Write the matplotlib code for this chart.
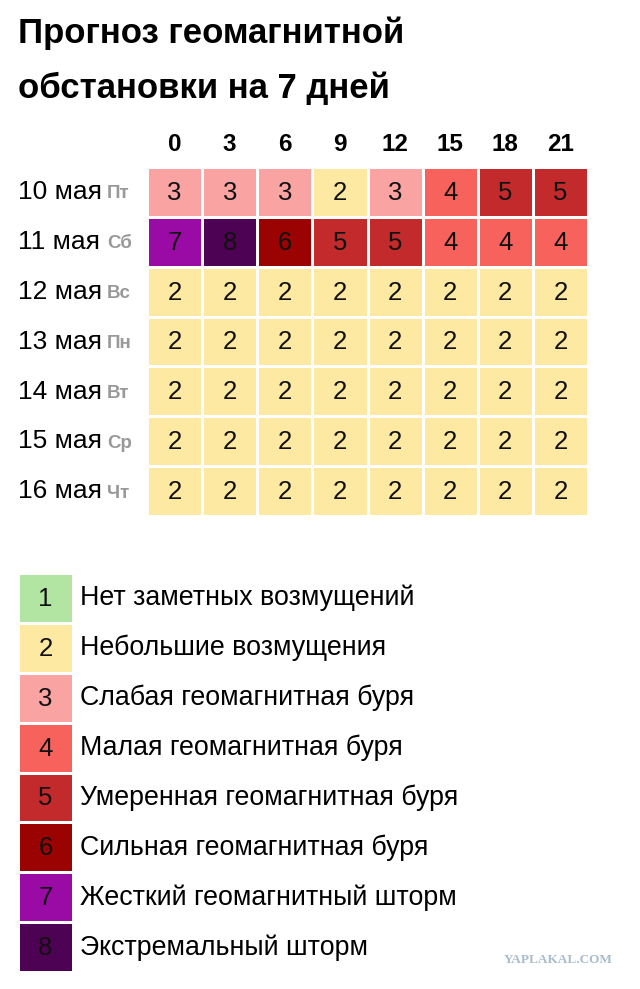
import matplotlib
matplotlib.use("Agg")
import matplotlib.pyplot as plt
import numpy as np
from matplotlib.colors import ListedColormap, BoundaryNorm

plt.rcParams['font.family'] = ['Liberation Sans', 'DejaVu Sans']

hours = ["0", "3", "6", "9", "12", "15", "18", "21"]
days = ["10 мая", "11 мая", "12 мая", "13 мая", "14 мая", "15 мая", "16 мая"]
weekdays = ["Пт", "Сб", "Вс", "Пн", "Вт", "Ср", "Чт"]
values = [
    [3, 3, 3, 2, 3, 4, 5, 5],
    [7, 8, 6, 5, 5, 4, 4, 4],
    [2, 2, 2, 2, 2, 2, 2, 2],
    [2, 2, 2, 2, 2, 2, 2, 2],
    [2, 2, 2, 2, 2, 2, 2, 2],
    [2, 2, 2, 2, 2, 2, 2, 2],
    [2, 2, 2, 2, 2, 2, 2, 2],
]
levels = [1, 2, 3, 4, 5, 6, 7, 8]
level_names = ["Нет заметных возмущений", "Небольшие возмущения", "Слабая геомагнитная буря",
               "Малая геомагнитная буря", "Умеренная геомагнитная буря", "Сильная геомагнитная буря",
               "Жесткий геомагнитный шторм", "Экстремальный шторм"]
colors = ["#b2e5a2", "#fde9a2", "#f9a4a2", "#f7625d", "#c22a2c", "#9b0202", "#9a0aa5", "#4e0254"]

cmap = ListedColormap(colors)
norm = BoundaryNorm(np.arange(0.5, 9.5, 1), cmap.N)

W, H = 640, 989
fig = plt.figure(figsize=(W/100, H/100), dpi=100)

def ax_px(l, t, r, b):
    return fig.add_axes([l/W, 1-b/H, (r-l)/W, (b-t)/H])

fig.text(18/W, 1-33/H, "Прогноз геомагнитной", fontsize=25, fontweight='bold', va='center')
fig.text(18/W, 1-88/H, "обстановки на 7 дней", fontsize=25, fontweight='bold', va='center')

ax = ax_px(147, 167, 588, 516)
arr = np.array(values)
nr, nc = arr.shape
ax.pcolormesh(np.arange(nc+1), np.arange(nr+1), arr, cmap=cmap, norm=norm,
              edgecolors='white', linewidth=2)
ax.set_xlim(0, nc); ax.set_ylim(nr, 0)
ax.axis('off')
for i in range(nr):
    for j in range(nc):
        ax.text(j+0.5, i+0.52, str(arr[i, j]), ha='center', va='center', fontsize=18.5, color='#111')
for j, h in enumerate(hours):
    ax.text(j+0.5, -0.45, h, ha='center', va='center', fontsize=17.5, fontweight='bold')
for i, (d, w) in enumerate(zip(days, weekdays)):
    fig.text(18/W, 1-(192+i*49.9)/H, d, fontsize=19, va='center')
    fig.text(107/W, 1-(194+i*49.9)/H, w, fontsize=13.5, fontweight='bold', color='#999999', va='center')

lax = ax_px(18, 573, 73, 972)
larr = np.array(levels).reshape(-1, 1)
lax.pcolormesh(np.arange(2), np.arange(len(levels)+1), larr, cmap=cmap, norm=norm,
               edgecolors='white', linewidth=2)
lax.set_xlim(0, 1); lax.set_ylim(len(levels), 0)
lax.axis('off')
for i, (lv, name) in enumerate(zip(levels, level_names)):
    lax.text(0.5, i+0.52, str(lv), ha='center', va='center', fontsize=18.5, color='#111')
    fig.text(80/W, 1-(598+i*49.9)/H, name, fontsize=19.3, va='center')

fig.text(613/W, 1-960/H, "YAPLAKAL.COM", fontsize=9.5, fontweight='bold', color='#a9bccb',
         ha='right', va='center', family=['Liberation Serif', 'DejaVu Serif'])

fig.savefig("out.png", dpi=100)
